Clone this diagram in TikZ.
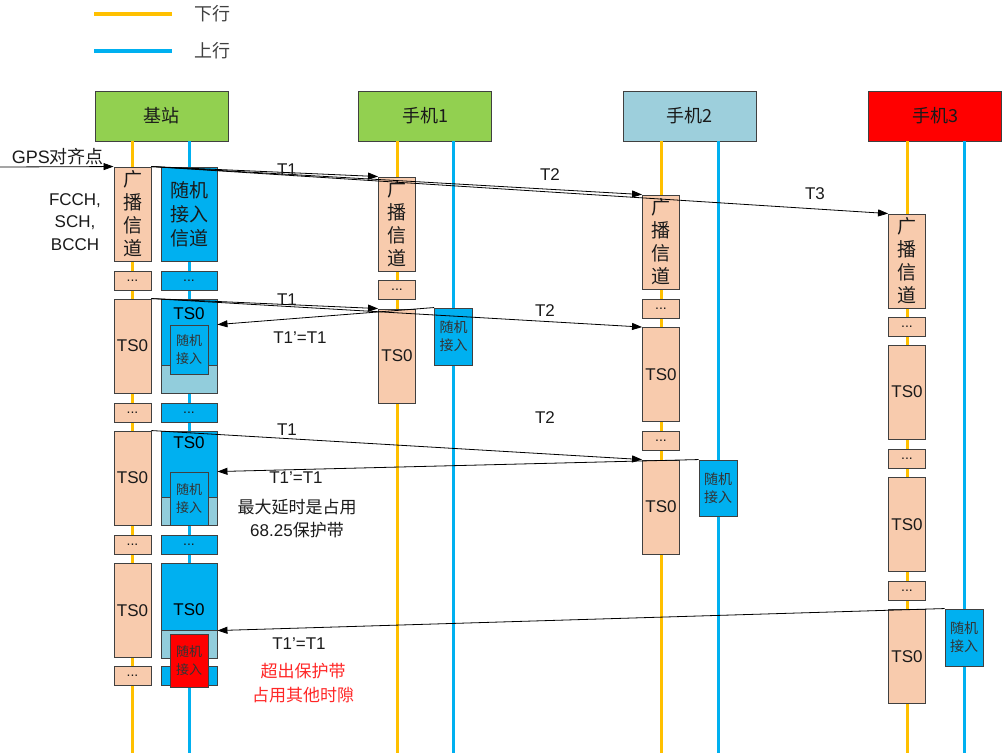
\documentclass[tikz,border=0pt]{standalone}
\usepackage{fontspec}
\setmainfont{Liberation Sans}
\newfontfamily\cjk{Noto Sans CJK SC}
\usetikzlibrary{arrows.meta}
\definecolor{peach}{HTML}{F8CBAD}
\definecolor{cyanf}{HTML}{00B0F0}
\definecolor{lblue}{HTML}{92CDDC}
\definecolor{gold}{HTML}{FFC000}
\definecolor{grn}{HTML}{92D050}
\definecolor{hblue}{HTML}{9DCFDC}
\definecolor{bord}{HTML}{404040}
\definecolor{txt}{HTML}{1A1A1A}
\tikzset{
  dl/.style={gold,line width=3pt},
  ul/.style={cyanf,line width=3pt},
  hdr/.style={draw=bord,line width=1pt,minimum width=133pt,minimum height=50pt,inner sep=0pt,font=\cjk\fontsize{18}{21}\selectfont,text=txt},
  obox/.style={draw=bord,fill=peach,line width=0.9pt,minimum width=37pt,inner sep=0pt,text=txt},
  bbox/.style={draw=bord,fill=cyanf,line width=0.9pt,minimum width=56pt,inner sep=0pt,text=txt},
  band/.style={draw=bord,fill=lblue,line width=0.9pt,minimum width=56pt,minimum height=28pt,inner sep=0pt},
  rabox/.style={draw=bord,fill=cyanf,line width=0.9pt,minimum width=38pt,inner sep=0pt,align=center,text=black!80,font=\cjk\fontsize{13}{18}\selectfont},
  vtxt/.style={align=center,font=\cjk\fontsize{19}{23}\selectfont},
  ts/.style={font=\fontsize{17}{20}\selectfont},
  dots/.style={font=\fontsize{14}{16}\selectfont},
  lbl/.style={font=\fontsize{17}{20}\selectfont,text=txt},
  arr/.style={black,line width=0.8pt,-{Triangle[length=10pt,width=7pt]}},
}
\begin{document}
\begin{tikzpicture}[x=1pt,y=-1pt]
\useasboundingbox (0,0) rectangle (1002,753);
% legend
\coordinate (lg1a) at (94,14); \coordinate (lg1b) at (172,14);
\coordinate (lg2a) at (94,51); \coordinate (lg2b) at (172,51);
\draw[dl,line width=3.5pt] (lg1a) -- (lg1b);
\draw[ul,line width=3.5pt] (lg2a) -- (lg2b);
\node[font=\cjk\fontsize{18}{21}\selectfont,text=black!75] (lgt1) at (212,14) {下行};
\node[font=\cjk\fontsize{18}{21}\selectfont,text=black!75] (lgt2) at (212,51) {上行};
% headers
\node[hdr,fill=grn] (hbs) at (161.5,116) {基站};
\node[hdr,fill=grn] (hm1) at (425,116) {手机1};
\node[hdr,fill=hblue] (hm2) at (689.5,116) {手机2};
\node[hdr,fill=red] (hm3) at (935,116) {手机3};
% lifelines
\coordinate (bsd) at (132,141); \coordinate (bsu) at (189,141);
\coordinate (m1d) at (397,141); \coordinate (m1u) at (453,141);
\coordinate (m2d) at (661,141); \coordinate (m2u) at (718,141);
\coordinate (m3d) at (907,141); \coordinate (m3u) at (964,141);
\draw[dl] (bsd) -- (bsd |- 0,753);
\draw[ul] (bsu) -- (bsu |- 0,753);
\draw[dl] (m1d) -- (m1d |- 0,753);
\draw[ul] (m1u) -- (m1u |- 0,753);
\draw[dl] (m2d) -- (m2d |- 0,753);
\draw[ul] (m2u) -- (m2u |- 0,753);
\draw[dl] (m3d) -- (m3d |- 0,753);
\draw[ul] (m3u) -- (m3u |- 0,753);
% base station downlink column
\node[obox,minimum height=94pt,vtxt] (bo1) at (132.5,214) {广\\播\\信\\道};
\node[obox,minimum height=19pt,dots] (bo2) at (132.5,280.5) {...};
\node[obox,minimum height=94pt,ts] (bo3) at (132.5,346) {TS0};
\node[obox,minimum height=19pt,dots] (bo4) at (132.5,412.5) {...};
\node[obox,minimum height=94pt,ts] (bo5) at (132.5,478) {TS0};
\node[obox,minimum height=19pt,dots] (bo6) at (132.5,544.5) {...};
\node[obox,minimum height=94pt,ts] (bo7) at (132.5,610.5) {TS0};
\node[obox,minimum height=19pt,dots] (bo8) at (132.5,675.5) {...};
% base station uplink column
\node[bbox,minimum height=94pt,align=center,font=\cjk\fontsize{19}{24}\selectfont] (bb1) at (189,214) {随机\\接入\\信道};
\node[bbox,minimum height=19pt,dots] (bb2) at (189,280.5) {...};
\node[bbox,minimum height=94pt] (bb3) at (189,346) {};
\node[band] (bd3) at (189,379) {};
\node[ts] (bt3) at (189,314) {TS0};
\node[rabox,minimum height=49pt] (bra3) at (189,349.5) {随机\\接入};
\node[bbox,minimum height=19pt,dots] (bb4) at (189,412.5) {...};
\node[bbox,minimum height=94pt] (bb5) at (189,478) {};
\node[band] (bd5) at (189,511) {};
\node[ts] (bt5) at (189,443) {TS0};
\node[rabox,minimum height=53pt] (bra5) at (189,498.5) {随机\\接入};
\node[bbox,minimum height=19pt,dots] (bb6) at (189,544.5) {...};
\node[bbox,minimum height=94pt] (bb7) at (189,610.5) {};
\node[band] (bd7) at (189,644) {};
\node[ts] (bt7) at (189,610) {TS0};
\node[bbox,minimum height=19pt] (bb8) at (189,675.5) {};
\node[rabox,fill=red,minimum height=53pt] (bra7) at (189,660.5) {随机\\接入};
% phone 1
\node[obox,minimum height=94pt,vtxt] (p1o1) at (397,224) {广\\播\\信\\道};
\node[obox,minimum height=19pt,dots] (p1o2) at (397,290) {...};
\node[obox,minimum height=94pt,ts] (p1o3) at (397,356) {TS0};
\node[rabox,minimum height=57pt,font=\cjk\fontsize{14}{18}\selectfont] (p1ra) at (453.5,336.5) {随机\\接入};
% phone 2
\node[obox,minimum height=94pt,vtxt] (p2o1) at (661,242) {广\\播\\信\\道};
\node[obox,minimum height=19pt,dots] (p2o2) at (661,308.5) {...};
\node[obox,minimum height=94pt,ts] (p2o3) at (661,374.5) {TS0};
\node[obox,minimum height=19pt,dots] (p2o4) at (661,440.5) {...};
\node[obox,minimum height=94pt,ts] (p2o5) at (661,507) {TS0};
\node[rabox,minimum height=56pt,font=\cjk\fontsize{14}{18}\selectfont] (p2ra) at (718,488) {随机\\接入};
% phone 3
\node[obox,minimum height=94pt,vtxt] (p3o1) at (907,261) {广\\播\\信\\道};
\node[obox,minimum height=19pt,dots] (p3o2) at (907,326.5) {...};
\node[obox,minimum height=94pt,ts] (p3o3) at (907,392) {TS0};
\node[obox,minimum height=19pt,dots] (p3o4) at (907,458.5) {...};
\node[obox,minimum height=94pt,ts] (p3o5) at (907,524.5) {TS0};
\node[obox,minimum height=19pt,dots] (p3o6) at (907,590.5) {...};
\node[obox,minimum height=94pt,ts] (p3o7) at (907,656.5) {TS0};
\node[rabox,minimum height=57pt,font=\cjk\fontsize{14}{18}\selectfont] (p3ra) at (964,637.5) {随机\\接入};
% side texts
\node[lbl,anchor=east,inner sep=0pt,font=\fontsize{18}{21}\selectfont] (gpst) at (104,157) {GPS{\cjk 对齐点}};
\node[lbl,align=center,inner sep=0pt,font=\fontsize{17}{22.5}\selectfont] (fcch) at (75,222) {FCCH,\\SCH,\\BCCH};
\coordinate (gps) at (0,167);
% arrows
\draw[arr] (gps) -- (bo1.north west);
\draw[arr] (bo1.north east) -- (p1o1.north west);
\draw[arr] (bo1.north east) -- (p2o1.north west);
\draw[arr] (bo1.north east) -- (p3o1.north west);
\draw[arr] (bo3.north east) -- (p1o3.north west);
\draw[arr] (bo3.north east) -- (p2o3.north west);
\draw[arr] (p1ra.north west) -- (bb3.east |- bra3.north);
\draw[arr] (bo5.north east) -- (p2o5.north west);
\draw[arr] (p2ra.north west) -- (bb5.east |- bra5.north);
\draw[arr] (p3ra.north west) -- ([yshift=3pt]bb7.east |- bra7.north);
% labels
\node[lbl] (t1a) at (287,170) {T1};
\node[lbl] (t2a) at (550,175) {T2};
\node[lbl] (t3a) at (815,194) {T3};
\node[lbl] (t1b) at (287,300) {T1};
\node[lbl] (t2b) at (545,311) {T2};
\node[lbl] (t1pb) at (300,338) {T1'=T1};
\node[lbl] (t1c) at (287,430) {T1};
\node[lbl] (t2c) at (545,418) {T2};
\node[lbl] (t1pc) at (296,478) {T1'=T1};
\node[lbl,align=center,font=\fontsize{17}{23}\selectfont] (maxd) at (297,519) {{\cjk 最大延时是占用}\\68.25{\cjk 保护带}};
\node[lbl] (t1pd) at (299,644) {T1'=T1};
\node[lbl,align=center,text=red!85!white,font=\cjk\fontsize{17}{24}\selectfont] (over) at (303,683) {超出保护带\\占用其他时隙};
\end{tikzpicture}
\end{document}
